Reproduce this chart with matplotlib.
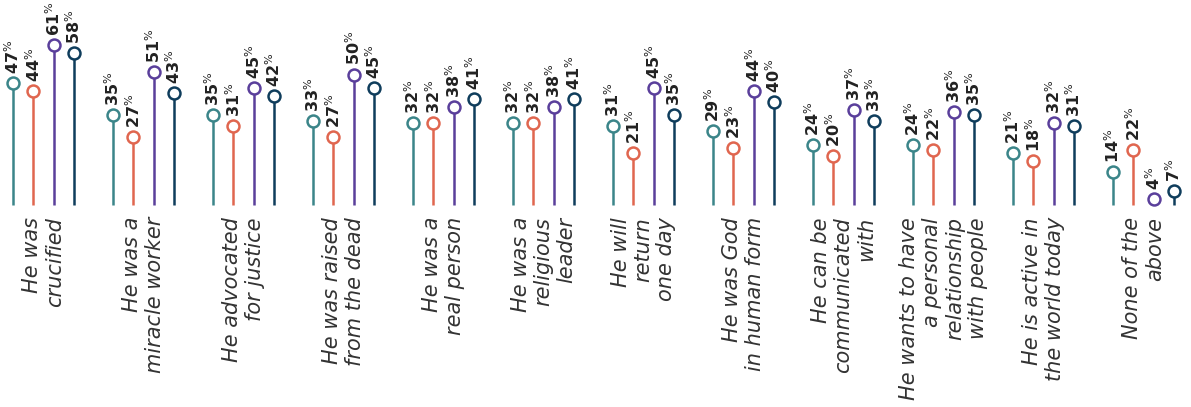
import matplotlib.pyplot as plt

categories = [
    "He was\ncrucified",
    "He was a\nmiracle worker",
    "He advocated\nfor justice",
    "He was raised\nfrom the dead",
    "He was a\nreal person",
    "He was a\nreligious\nleader",
    "He will\nreturn\none day",
    "He was God\nin human form",
    "He can be\ncommunicated\nwith",
    "He wants to have\na personal\nrelationship\nwith people",
    "He is active in\nthe world today",
    "None of the\nabove",
]
series_a = [47, 35, 35, 33, 32, 32, 31, 29, 24, 24, 21, 14]
series_b = [44, 27, 31, 27, 32, 32, 21, 23, 20, 22, 18, 22]
series_c = [61, 51, 45, 50, 38, 38, 45, 44, 37, 36, 32, 4]
series_d = [58, 43, 42, 45, 41, 41, 35, 40, 33, 35, 31, 7]
colors = ['#3b8589', '#e0664f', '#5a3f9b', '#0f3d5c']

plt.rcParams['mathtext.fontset'] = 'custom'
plt.rcParams['mathtext.rm'] = 'DejaVu Sans'
plt.rcParams['mathtext.bf'] = 'DejaVu Sans:bold'

fig = plt.figure(figsize=(11.91, 4.07), dpi=100)
ax = fig.add_axes([0, 0, 1, 1])
ax.set_xlim(-0.435, 11.475)
ax.set_ylim(-72.7, 77.5)
ax.axis('off')

step = 0.203
for j, vals in enumerate([series_a, series_b, series_c, series_d]):
    xs = [i + (j - 1.5) * step for i in range(len(vals))]
    ax.vlines(xs, 1.8, vals, color=colors[j], lw=1.8, zorder=1)
    ax.plot(xs, vals, 'o', ms=8.6, mfc='white', mec=colors[j], mew=1.8, zorder=2)
    for x, v in zip(xs, vals):
        ax.annotate(r'$\mathbf{%d}^{\%%}$' % v, (x, v), xytext=(0, 6.5),
                    textcoords='offset points', rotation=90,
                    ha='center', va='bottom', fontsize=11.5, color='#222222')

for i, lab in enumerate(categories):
    ax.text(i, -2.6, lab, rotation=90, ha='center', va='top',
            multialignment='right', fontsize=15, style='oblique',
            family='DejaVu Sans', weight='light', color='#333333',
            linespacing=1.17)

fig.savefig('out.png', dpi=100)
